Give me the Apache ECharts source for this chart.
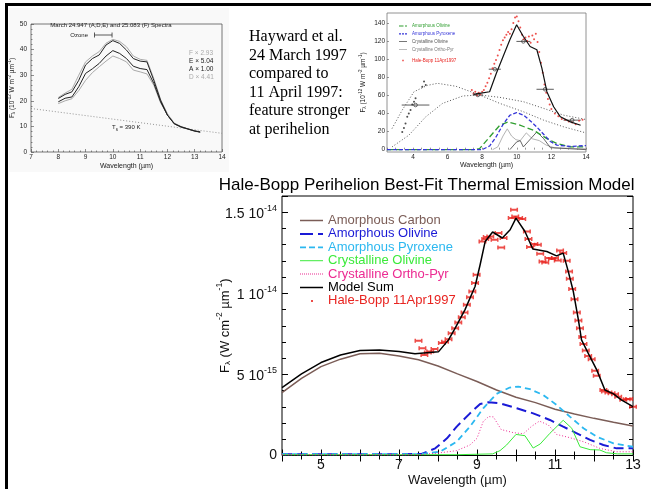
<!DOCTYPE html>
<html>
<head>
<meta charset="utf-8">
<script src="https://cdn.jsdelivr.net/npm/echarts@6/dist/echarts.min.js"></script>
<style>html,body{margin:0;padding:0;background:#fff}#main{width:651px;height:489px}</style>
</head>
<body>
<div id="main"></div>
<script>
// ---- top-left inset: March 24/25 spectra ----
var specX = [8.0, 8.25, 8.5, 8.75, 9.0, 9.25, 9.5, 9.75, 10.0, 10.25, 10.5, 10.75, 11.0, 11.25, 11.5, 11.75, 12.0, 12.25, 12.5, 12.75, 13.0, 13.2];
var specF = [21.3, 23, 24.5, 30, 35.2, 37.5, 39.2, 42.5, 44, 43.2, 41.1, 37.5, 36.2, 35.8, 28.7, 20.5, 15, 11.3, 10, 9.1, 8.3, 7.9];
var specE = [20.9, 22.5, 23.5, 28, 34, 36.5, 37.9, 41.8, 43.5, 42.4, 39.8, 36.5, 35.5, 35.2, 28, 20.2, 14.4, 11.1, 9.8, 9.0, 8.2, 7.8];
var specA = [19.6, 21, 21.5, 25.5, 30.7, 32.5, 34.6, 37.5, 39.6, 38.5, 36.5, 33.5, 32.6, 32.2, 26.8, 19.6, 14.4, 11, 9.8, 9.0, 8.2, 7.8];
var specD = [18.9, 20, 20.8, 24, 28, 31, 33.3, 35.5, 37.5, 36.5, 35.2, 32, 31.3, 30.5, 26.1, 19.2, 14.4, 11, 9.7, 8.9, 8.1, 7.7];
var tsX = [7, 14];
var tsY = [17, 7.3];
var ozoneX = [9.33, 9.97];
var ozoneY = [45.7, 45.7];
var scaleNames = ['F \u00d7 2.93', 'E \u00d7 5.04', 'A \u00d7 1.00', 'D \u00d7 4.41'];
var scaleColors = ['#aaa', '#222', '#222', '#aaa'];
var inset1XLabels = [7, 8, 9, 10, 11, 12, 13, 14];

// ---- top-right inset: 11 April fit ----
var bb1X = [2.79, 3.38, 4.06, 4.83, 5.42, 6.49, 7.85, 9.02, 10.38, 11.55, 12.71, 14];
var bb1Y = [23.3, 43.7, 64, 71, 73.3, 70, 60.4, 51.1, 41.9, 32.6, 25.2, 18.5];
var bb2X = [2.79, 3.76, 4.74, 5.71, 6.88, 7.85, 9.02, 10.38, 11.55, 12.71, 14];
var bb2Y = [3, 15.9, 36.3, 51.1, 59.3, 60.4, 57.8, 53, 45.6, 38.1, 33.3];
var iAOX = [2.5, 7.6, 7.85, 8.43, 9.02, 9.5, 10.18, 10.96, 11.74, 12.32, 13.1, 14];
var iAOY = [0, 0, 1.1, 14, 27, 30.7, 27, 21.5, 12.2, 6.7, 3, 3];
var iAPX = [2.5, 8.0, 8.43, 8.8, 9.21, 9.6, 9.99, 10.4, 10.77, 11.16, 11.55, 11.94, 12.32, 13.1, 14];
var iAPY = [0, 0, 4, 14, 28, 38, 41, 38, 32, 25, 17, 9, 5, 3.5, 4.5];
var iCOX = [9.6, 9.99, 10.2, 10.38, 10.8, 11.16, 11.35, 11.55, 11.94, 14];
var iCOY = [0, 8.5, 10, 3, 12, 19.6, 16, 12.2, 2.2, 0];
var iCPX = [8.6, 8.9, 9.2, 9.45, 9.7, 9.95, 10.2, 10.55, 10.9, 11.3, 11.7, 12.2, 14];
var iCPY = [0, 3, 15, 23, 15, 11, 10, 18.5, 12, 10, 5, 2, 1];
var iFitX = [7.5, 7.85, 8.43, 8.82, 9.21, 9.6, 9.99, 10.38, 10.77, 11.16, 11.45, 11.74, 12.13, 12.52, 13.1, 13.69];
var iFitY = [61, 62.2, 64, 84.4, 103, 121.5, 138, 125, 114, 110.4, 90, 64, 47.4, 36.3, 30.7, 27];
var iHBX = [7.4, 7.5, 7.6, 7.7, 7.8, 7.9, 8.0, 8.1, 8.2, 8.3, 8.4, 8.5, 8.6, 8.7, 8.8, 8.9, 9.0, 9.1, 9.2, 9.3, 9.4, 9.5, 9.6, 9.7, 9.8, 9.9, 10.0, 10.1, 10.2, 10.3, 10.4, 10.5, 10.6, 10.7, 10.8, 10.9, 11.0, 11.1, 11.2, 11.3, 11.4, 11.5, 11.6, 11.7, 11.8, 11.9, 12.0, 12.2, 12.4, 12.6, 12.8, 13.0, 13.2, 13.4, 13.6, 13.8];
var iHBY = [66, 62, 64, 60, 63, 61, 64, 66, 70, 74, 79, 84, 90, 95, 99, 104, 110, 116, 121, 124, 127, 130, 128, 133, 140, 146, 147, 142, 135, 127, 122, 124, 120, 125, 118, 126, 122, 128, 119, 108, 96, 85, 72, 63, 56, 50, 45, 40, 37, 34, 33, 31, 30, 28, 32, 33];
var iShortX = [3.38, 3.48, 3.57, 3.67, 3.76, 3.86, 3.96, 4.06, 4.15, 4.54, 4.64, 4.74];
var iShortY = [19.6, 24, 28.9, 36.3, 40, 43.7, 50, 53, 56.7, 69.6, 75.2, 71.5];
var iErrX = [4.15, 7.75, 8.73, 10.38, 11.64, 13.2];
var iErrY = [49.3, 60.4, 88.9, 119.6, 66.7, 32.6];
var iErrW = [0.8, 0.3, 0.35, 0.4, 0.5, 0.5];
var inset2XLabels = [4, 6, 8, 10, 12, 14];
var inset2YLabels = [0, 20, 40, 60, 80, 100, 120, 140];
var inset2Names = {iAO: 'Amorphous Olivine', iAP: 'Amorphous Pyroxene', iCO: 'Crystalline Olivine', iCP: 'Crystalline Ortho-Pyr', iHB: 'Hale-Bopp 11Apr1997'};

// ---- main chart (flux in units of 1e-15 W cm^-2 um^-1) ----
var carbonX = [4, 4.5, 5, 5.5, 6, 6.5, 7, 7.5, 8, 8.5, 9, 9.5, 10, 10.5, 11, 11.5, 12, 12.5, 13];
var carbonY = [3.88, 4.76, 5.48, 5.94, 6.27, 6.31, 6.14, 5.9, 5.52, 5.03, 4.56, 4.04, 3.59, 3.26, 2.85, 2.56, 2.29, 2.05, 1.82];
var amOlX = [4, 7, 7.58, 7.93, 8.23, 8.48, 8.82, 9.08, 9.29, 9.59, 10.02, 10.44, 10.87, 11.21, 11.56, 11.9, 12.24, 12.58, 13];
var amOlY = [0.08, 0.08, 0.1, 0.44, 1.06, 1.78, 2.6, 3.18, 3.28, 3.22, 2.91, 2.6, 2.19, 1.78, 1.37, 0.96, 0.65, 0.44, 0.44];
var amPyX = [4, 7.5, 8.05, 8.48, 8.82, 9.16, 9.5, 9.84, 10.06, 10.36, 10.7, 11.04, 11.38, 11.73, 12.07, 12.5, 13];
var amPyY = [0.08, 0.08, 0.23, 0.85, 1.78, 2.91, 3.8, 4.19, 4.25, 4.09, 3.73, 3.12, 2.4, 1.68, 1.16, 0.75, 0.54];
var crOlX = [4, 8.5, 9.4, 9.59, 9.76, 10.0, 10.23, 10.44, 10.62, 10.87, 11.21, 11.43, 11.64, 11.9, 12.15, 12.32, 12.6, 13];
var crOlY = [0.05, 0.05, 0.1, 0.3, 0.65, 1.3, 1.22, 0.46, 0.71, 1.37, 2.17, 1.68, 0.54, 0.36, 0.34, 0.17, 0.1, 0.1];
var crPyX = [4, 7.5, 8.0, 8.48, 8.82, 9.0, 9.16, 9.3, 9.42, 9.62, 9.93, 10.19, 10.4, 10.6, 10.83, 11.04, 11.38, 11.73, 12.15, 12.58, 13];
var crPyY = [0.05, 0.05, 0.15, 0.3, 0.65, 1.06, 2.1, 2.4, 2.38, 1.6, 1.41, 1.34, 1.8, 2.12, 1.88, 1.3, 1.1, 0.85, 0.44, 0.23, 0.23];
var modelX = [4.0, 4.5, 5.0, 5.5, 6.0, 6.5, 7.0, 7.41, 8.01, 8.27, 8.44, 8.69, 8.95, 9.08, 9.21, 9.40, 9.65, 9.85, 10.0, 10.23, 10.43, 10.79, 11.04, 11.21, 11.34, 11.47, 11.60, 11.68, 11.85, 12.07, 12.28, 12.5, 12.7, 13.0];
var modelY = [4.19, 5.03, 5.73, 6.2, 6.47, 6.51, 6.41, 6.27, 6.39, 7.13, 7.85, 8.98, 10.42, 11.76, 13.2, 13.78, 13.41, 13.92, 14.64, 13.81, 12.73, 12.58, 12.31, 12.48, 11.35, 10.11, 8.36, 7.13, 6.31, 5.28, 4.04, 3.8, 3.43, 3.01];
var hbX = [7.5, 7.6, 7.65, 7.74, 7.8, 7.91, 8.1, 8.18, 8.27, 8.35, 8.44, 8.52, 8.61, 8.68, 8.74, 8.82, 8.88, 8.95, 8.99, 9.14, 9.21, 9.25, 9.34, 9.45, 9.55, 9.62, 9.68, 9.89, 9.95, 9.98, 10.08, 10.16, 10.28, 10.32, 10.36, 10.47, 10.56, 10.62, 10.68, 10.75, 10.83, 10.92, 11.0, 11.07, 11.13, 11.21, 11.3, 11.36, 11.38, 11.44, 11.5, 11.56, 11.6, 11.64, 11.7, 11.73, 11.79, 11.85, 11.94, 12.03, 12.07, 12.24, 12.28, 12.37, 12.45, 12.54, 12.62, 12.75, 12.84, 12.9, 13.0];
var hbY = [7.07, 6.62, 6.2, 6.35, 6.41, 6.57, 6.93, 7.02, 7.17, 7.54, 7.85, 8.2, 8.53, 8.81, 9.29, 9.76, 10.11, 10.63, 11.14, 13.2, 13.35, 13.47, 13.51, 13.3, 13.72, 12.83, 13.41, 14.64, 15.15, 14.74, 14.64, 14.58, 13.81, 13.35, 12.85, 13.04, 12.99, 12.44, 11.96, 11.9, 12.17, 12.11, 12.17, 12.02, 12.64, 12.48, 12.01, 11.35, 10.9, 10.26, 9.64, 8.81, 8.32, 7.85, 7.3, 6.88, 6.47, 6.14, 5.94, 5.22, 4.91, 4.04, 3.94, 3.88, 3.84, 3.78, 3.63, 3.43, 3.47, 3.49, 3.01];
var mainXLabels = [5, 7, 9, 11, 13];
var mainYTicks = [0, 5, 10, 15];
var mainYMant = ['0', '5 10', '1 10', '1.5 10'];
var mainYExp = ['', '-15', '-14', '-14'];

var titleText = 'Hale-Bopp Perihelion Best-Fit Thermal Emission Model';
var noteLines = ['Hayward et al.', '24 March 1997', 'compared to', '11 April 1997:', 'feature stronger', 'at perihelion'];

var font = '"Liberation Sans", Arial, sans-serif';
function zip(xs, ys) { return xs.map(function (x, i) { return [x, ys[i]]; }); }

// legend icons drawn as little paths (box 23x12 for the main legend, 8x6 for the inset one)
var dotIcon = 'path://M0,0M23,12';
for (var k = 0; k < 12; k++) dotIcon += 'M' + (2 * k) + ',5.5h1v1h-1z';
var icons = {
    solid15: 'path://M0,0M23,12M0,5.25h23v1.5h-23z',
    solid1: 'path://M0,0M23,12M0,5.5h23v1h-23z',
    longDash: 'path://M0,0M23,12M0,5h13v2h-13zM18,5h5v2h-5z',
    dash: 'path://M0,0M23,12M0,5.1h6v1.8h-6zM9,5.1h6v1.8h-6zM18,5.1h5v1.8h-5z',
    dots: dotIcon,
    dot: 'path://M0,0M23,12M11,5h2v2h-2z',
    iLong: 'path://M0,0M8,6M0,2.4h4.5v1.2h-4.5zM6,2.4h2v1.2h-2z',
    iDash: 'path://M0,0M8,6M0,2.4h2v1.2h-2zM3,2.4h2v1.2h-2zM6,2.4h2v1.2h-2z',
    iSolid: 'path://M0,0M8,6M0,2.6h8v0.8h-8z',
    iDot: 'path://M0,0M8,6M3.2,2.2h1.6v1.6h-1.6z'
};

var myChart = echarts.init(document.getElementById('main'), null, {renderer: 'canvas'});

function smallLine(name, xs, ys, color, width, type) {
    return {name: name, type: 'line', xAxisIndex: 0, yAxisIndex: 0, data: zip(xs, ys), symbol: 'none',
        lineStyle: {color: color, width: width, type: type || 'solid'}, itemStyle: {color: color}, silent: true};
}
function inLine(name, xs, ys, color, width, type) {
    var s = smallLine(name, xs, ys, color, width, type);
    s.xAxisIndex = 1; s.yAxisIndex = 1;
    return s;
}
function mainLine(name, xs, ys, color, width, type) {
    var s = smallLine(name, xs, ys, color, width, type);
    s.xAxisIndex = 2; s.yAxisIndex = 2;
    return s;
}

var tinyLabel = {fontSize: 6.5, fontFamily: font, color: '#222'};
var tinyRich = {
    a: {fontSize: 6.5, fontFamily: font, color: '#222', lineHeight: 9, verticalAlign: 'bottom'},
    b: {fontSize: 4.5, fontFamily: font, color: '#222', lineHeight: 6, verticalAlign: 'bottom'},
    c: {fontSize: 4.5, fontFamily: font, color: '#222', lineHeight: 5, verticalAlign: 'top'}
};
var mainRich = {
    a: {fontSize: 13, fontFamily: font, color: '#111', lineHeight: 17, verticalAlign: 'bottom'},
    b: {fontSize: 8, fontFamily: font, color: '#111', lineHeight: 10, verticalAlign: 'bottom'},
    c: {fontSize: 8.5, fontFamily: font, color: '#111', lineHeight: 9, verticalAlign: 'top'}
};

myChart.setOption({
    animation: false,
    backgroundColor: '#fff',
    grid: [
        {left: 31, top: 24, width: 191, height: 128, show: true, borderColor: '#555', borderWidth: 0.8, outerBoundsMode: 'none'},
        {left: 387, top: 13, width: 199, height: 139, show: true, borderColor: '#777', borderWidth: 0.8, outerBoundsMode: 'none'},
        {left: 282, top: 196, right: 18, bottom: 33.5, show: true, borderColor: '#000', borderWidth: 1, outerBoundsMode: 'none'}
    ],
    xAxis: [
        {type: 'value', gridIndex: 0, min: 7, max: 14, interval: 1,
            axisLine: {show: false}, splitLine: {show: false},
            axisTick: {inside: true, length: 3, lineStyle: {color: '#444', width: 0.6}},
            minorTick: {show: true, splitNumber: 5, length: 1.5, lineStyle: {color: '#444', width: 0.6}},
            axisLabel: Object.assign({margin: 2, formatter: function (v) { return inset1XLabels.indexOf(v) >= 0 ? String(v) : ''; }}, tinyLabel),
            name: 'Wavelength (\u00b5m)', nameLocation: 'middle', nameGap: 11, nameMoveOverlap: false,
            nameTextStyle: {fontSize: 7, fontFamily: font, color: '#222'}},
        {type: 'value', gridIndex: 1, min: 2.5, max: 14, interval: 0.5,
            axisLine: {show: false}, splitLine: {show: false},
            axisTick: {inside: true, length: 2, lineStyle: {color: '#555', width: 0.6}},
            axisLabel: Object.assign({margin: 2, formatter: function (v) { return inset2XLabels.indexOf(v) >= 0 ? String(v) : ''; }}, tinyLabel),
            name: 'Wavelength (\u00b5m)', nameLocation: 'middle', nameGap: 9.5, nameMoveOverlap: false,
            nameTextStyle: {fontSize: 7, fontFamily: font, color: '#222'}},
        {type: 'value', gridIndex: 2, min: 4, max: 13, interval: 1,
            axisLine: {show: false}, splitLine: {show: false},
            axisTick: {inside: true, length: 6, lineStyle: {color: '#000'}},
            minorTick: {show: true, splitNumber: 2, length: 4, lineStyle: {color: '#000'}},
            axisLabel: {margin: 3, fontSize: 14, fontFamily: font, color: '#111',
                formatter: function (v) { return mainXLabels.indexOf(v) >= 0 ? String(v) : ''; }},
            name: 'Wavelength (\u00b5m)', nameLocation: 'middle', nameGap: 18, nameMoveOverlap: false,
            nameTextStyle: {fontSize: 13, fontFamily: font, color: '#111'}},
        {type: 'value', gridIndex: 2, position: 'top', min: 4, max: 13, interval: 1,
            axisLine: {show: false}, splitLine: {show: false}, axisLabel: {show: false},
            axisTick: {inside: true, length: 6, lineStyle: {color: '#000'}},
            minorTick: {show: true, splitNumber: 2, length: 4, lineStyle: {color: '#000'}}}
    ],
    yAxis: [
        {type: 'value', gridIndex: 0, min: 0, max: 50, interval: 10,
            axisLine: {show: false}, splitLine: {show: false},
            axisTick: {inside: true, length: 3, lineStyle: {color: '#444', width: 0.6}},
            minorTick: {show: true, splitNumber: 5, length: 1.5, lineStyle: {color: '#444', width: 0.6}},
            axisLabel: Object.assign({margin: 4}, tinyLabel),
            name: '{a|F}{b|\u03bb}{a| (10}{c|-12}{a| W m}{c|-2}{a| \u00b5m}{c|-1}{a|)}',
            nameLocation: 'middle', nameRotate: 90, nameGap: 15, nameMoveOverlap: false,
            nameTextStyle: {rich: tinyRich}},
        {type: 'value', gridIndex: 1, min: -2.6, max: 151,
            axisLine: {show: false}, splitLine: {show: false},
            axisTick: {inside: true, length: 2, customValues: inset2YLabels, lineStyle: {color: '#555', width: 0.6}},
            axisLabel: Object.assign({margin: 2, customValues: inset2YLabels}, tinyLabel),
            name: '{a|F}{b|\u03bb}{a| (10}{c|-12}{a| W m}{c|-2}{a| \u00b5m}{c|-1}{a|)}',
            nameLocation: 'middle', nameRotate: 90, nameGap: 20, nameMoveOverlap: false,
            nameTextStyle: {rich: tinyRich}},
        {type: 'value', gridIndex: 2, min: 0, max: 16, interval: 5,
            axisLine: {show: false}, splitLine: {show: false},
            axisTick: {inside: true, length: 6, lineStyle: {color: '#000'}},
            minorTick: {show: true, splitNumber: 5, length: 4, lineStyle: {color: '#000'}},
            axisLabel: {margin: 5, fontSize: 14, fontFamily: font, color: '#111',
                formatter: function (v) {
                    var i = mainYTicks.indexOf(v);
                    if (i < 0) return '';
                    if (!mainYExp[i]) return mainYMant[i];
                    return '{n|' + mainYMant[i] + '}{s|' + mainYExp[i] + '}';
                },
                rich: {
                    n: {fontSize: 14, fontFamily: font, color: '#111', lineHeight: 17, verticalAlign: 'bottom'},
                    s: {fontSize: 9, fontFamily: font, color: '#111', lineHeight: 9, verticalAlign: 'top'}
                }},
            name: '{a|F}{b|\u03bb}{a| (W cm}{c|-2}{a| \u00b5m}{c|-1}{a|)}',
            nameLocation: 'middle', nameRotate: 90, nameGap: 50, nameMoveOverlap: false,
            nameTextStyle: {rich: mainRich}},
        {type: 'value', gridIndex: 2, position: 'right', min: 0, max: 16, interval: 5,
            axisLine: {show: false}, splitLine: {show: false}, axisLabel: {show: false},
            axisTick: {inside: true, length: 6, lineStyle: {color: '#000'}},
            minorTick: {show: true, splitNumber: 5, length: 4, lineStyle: {color: '#000'}}}
    ],
    legend: [
        {orient: 'vertical', left: 300, top: 214, padding: 0, itemWidth: 23, itemHeight: 12, itemGap: 0.4,
            selectedMode: false, textStyle: {fontSize: 13, fontFamily: font, lineHeight: 12},
            data: [
                {name: 'Amorphous Carbon', icon: icons.solid15, textStyle: {color: '#7b5d57'}},
                {name: 'Amorphous Olivine', icon: icons.longDash, textStyle: {color: '#1a1ad6'}},
                {name: 'Amorphous Pyroxene', icon: icons.dash, textStyle: {color: '#2cb8f0'}},
                {name: 'Crystalline Olivine', icon: icons.solid1, textStyle: {color: '#3bea3b'}},
                {name: 'Crystalline Ortho-Pyr', icon: icons.dots, textStyle: {color: '#ec2b92'}},
                {name: 'Model Sum', icon: icons.solid15, textStyle: {color: '#000'}},
                {name: 'Hale-Bopp 11Apr1997', icon: icons.dot, textStyle: {color: '#e82420'}}
            ]},
        {orient: 'vertical', left: 399, top: 23, padding: 0, itemWidth: 8, itemHeight: 6, itemGap: 1.8,
            selectedMode: false, textStyle: {fontSize: 4.5, fontFamily: font, lineHeight: 6},
            formatter: function (n) { return inset2Names[n]; },
            data: [
                {name: 'iAO', icon: icons.iLong, textStyle: {color: '#2f9e2f'}},
                {name: 'iAP', icon: icons.iDash, textStyle: {color: '#3535d8'}},
                {name: 'iCO', icon: icons.iSolid, textStyle: {color: '#555'}},
                {name: 'iCP', icon: icons.iSolid, textStyle: {color: '#777'}}
            ]},
        {orient: 'vertical', left: 399, top: 57.5, padding: 0, itemWidth: 8, itemHeight: 6,
            selectedMode: false, textStyle: {fontSize: 4.5, fontFamily: font, lineHeight: 6},
            formatter: function (n) { return inset2Names[n]; },
            data: [{name: 'iHB', icon: icons.iDot, textStyle: {color: '#e82420'}}]}
    ],
    graphic: [
        {type: 'rect', z: -10, shape: {x: 9, y: 8, width: 220, height: 164}, style: {fill: '#f9f9f9'}},
        {type: 'rect', shape: {x: 5, y: 3, width: 646, height: 3}, style: {fill: '#000'}},
        {type: 'rect', shape: {x: 5, y: 3, width: 3, height: 486}, style: {fill: '#000'}},
        {type: 'text', left: 249, top: 28, style: {text: noteLines.join('\n'), font: '16px "Liberation Serif", "Times New Roman", serif', lineHeight: 18.5, fill: '#000'}},
        {type: 'text', x: 426.7, y: 185, style: {text: titleText, fontSize: 17, fontFamily: font, fill: '#000', align: 'center', verticalAlign: 'middle', textAlign: 'center', textVerticalAlign: 'middle'}},
        {type: 'text', x: 111, y: 25.5, style: {text: 'March 24.947 (A,D,E) and 25.083 (F) Spectra', fontSize: 6, fontFamily: font, fill: '#222', align: 'center', verticalAlign: 'middle', textAlign: 'center', textVerticalAlign: 'middle'}},
        {type: 'text', x: 88, y: 35.5, style: {text: 'Ozone', fontSize: 6, fontFamily: font, fill: '#222', align: 'right', verticalAlign: 'middle', textAlign: 'right', textVerticalAlign: 'middle'}},
        {type: 'text', x: 112, y: 128, style: {text: '{a|T}{b|s}{a| = 390 K}', verticalAlign: 'middle', textVerticalAlign: 'middle',
            rich: {a: {fontSize: 6, fontFamily: font, fill: '#222', color: '#222', lineHeight: 8, verticalAlign: 'top'},
                   b: {fontSize: 4.5, fontFamily: font, fill: '#222', color: '#222', lineHeight: 8, verticalAlign: 'bottom'}}}},
        {type: 'group', children: scaleNames.map(function (t, i) {
            return {type: 'text', x: 189, y: 53.3 + i * 8, style: {text: t, fontSize: 6.5, fontFamily: font, fill: scaleColors[i], verticalAlign: 'middle', textVerticalAlign: 'middle'}};
        })}
    ],
    series: [
        // inset 1
        smallLine('ts', tsX, tsY, '#888', 0.9, [1, 2]),
        smallLine('F', specX, specF, '#aaa', 1),
        smallLine('D', specX, specD, '#aaa', 1),
        smallLine('E', specX, specE, '#222', 1),
        smallLine('A', specX, specA, '#222', 1),
        {name: 'ozone', type: 'line', xAxisIndex: 0, yAxisIndex: 0, data: zip(ozoneX, ozoneY), silent: true,
            symbol: 'rect', symbolSize: [0.8, 5], showSymbol: true, itemStyle: {color: '#333'}, lineStyle: {color: '#333', width: 0.8}},
        // inset 2
        inLine('bb1', bb1X, bb1Y, '#555', 1, [1, 2]),
        inLine('bb2', bb2X, bb2Y, '#555', 1, [1, 2]),
        inLine('iCP', iCPX, iCPY, '#aaa', 0.9),
        inLine('iCO', iCOX, iCOY, '#555', 0.9),
        inLine('iAO', iAOX, iAOY, '#2f9e2f', 1.3, [6, 3]),
        inLine('iAP', iAPX, iAPY, '#3535d8', 1.3, [4, 2]),
        {name: 'iHB', type: 'scatter', xAxisIndex: 1, yAxisIndex: 1, data: zip(iHBX, iHBY), symbol: 'circle', symbolSize: 2, itemStyle: {color: '#e82420'}, silent: true},
        inLine('fit', iFitX, iFitY, '#111', 1.2),
        {name: 'short', type: 'scatter', xAxisIndex: 1, yAxisIndex: 1, data: zip(iShortX, iShortY), symbol: 'circle', symbolSize: 2, itemStyle: {color: '#222'}, silent: true},
        {name: 'err', type: 'custom', xAxisIndex: 1, yAxisIndex: 1, silent: true,
            data: iErrX.map(function (x, i) { return [x, iErrY[i], iErrW[i]]; }),
            encode: {x: 0, y: 1},
            renderItem: function (params, api) {
                var c = api.coord([api.value(0), api.value(1)]);
                var l = api.coord([api.value(0) - api.value(2), api.value(1)]);
                var r = api.coord([api.value(0) + api.value(2), api.value(1)]);
                return {type: 'group', children: [
                    {type: 'line', shape: {x1: l[0], y1: l[1], x2: r[0], y2: r[1]}, style: {stroke: '#333', lineWidth: 0.8}},
                    {type: 'circle', shape: {cx: c[0], cy: c[1], r: 1.8}, style: {stroke: '#333', fill: 'none', lineWidth: 0.7}}
                ]};
            }},
        // main chart
        mainLine('Amorphous Carbon', carbonX, carbonY, '#7b5d57', 1.5),
        mainLine('Amorphous Olivine', amOlX, amOlY, '#1a1ad6', 2, [10, 5]),
        mainLine('Amorphous Pyroxene', amPyX, amPyY, '#2cb8f0', 1.8, [6, 4]),
        mainLine('Crystalline Olivine', crOlX, crOlY, '#3bea3b', 1),
        mainLine('Crystalline Ortho-Pyr', crPyX, crPyY, '#ec2b92', 1, [1, 2]),
        mainLine('Model Sum', modelX, modelY, '#000', 1.5),
        {name: 'Hale-Bopp 11Apr1997', type: 'scatter', xAxisIndex: 2, yAxisIndex: 2, data: zip(hbX, hbY),
            symbol: 'path://M0,0h1.5v1h5v-1h1.5v4h-1.5v-1h-5v1h-1.5z', symbolSize: [8, 4],
            itemStyle: {color: '#e8201c'}, silent: true}
    ]
});
</script>
</body>
</html>
